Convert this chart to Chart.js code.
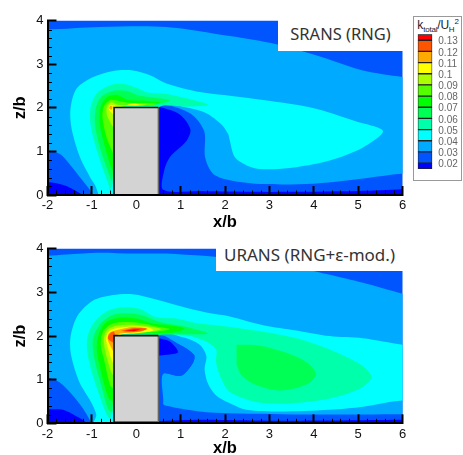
<!DOCTYPE html>
<html><head><meta charset="utf-8">
<script src="https://cdn.jsdelivr.net/npm/chart.js@4"></script>
<style>
html,body{margin:0;padding:0;background:#fff;overflow:hidden}
#page{position:relative;width:463px;height:455px;overflow:hidden;font-family:"Liberation Sans",Arial,sans-serif}
canvas{position:absolute;filter:blur(.3px)}
.note{position:absolute;background:#fff;font-family:"Noto Sans",sans-serif;color:#333;white-space:nowrap;text-align:center}
#legendBox{position:absolute;left:413px;top:16px;width:47px;height:163px;border:1px solid #999;background:#fff}
#legendTitle{position:absolute;left:414px;top:18px;width:48px;text-align:center;font-size:12px;color:#222;white-space:nowrap;letter-spacing:-.2px}
#legendTitle sub,#legendTitle sup{font-size:8px;line-height:0}
</style></head><body><div id="page">
<canvas id="c1" style="left:0;top:0"></canvas>
<canvas id="c2" style="left:0;top:228px"></canvas>
<div class="note" style="left:278px;top:17px;width:125px;height:34px;line-height:34px;font-size:16.5px">SRANS (RNG)</div>
<div class="note" style="left:216px;top:238px;width:187px;height:33px;line-height:33px;font-size:17px">URANS (RNG+ε-mod.)</div>
<div id="legendBox"></div>
<div id="legendTitle">k<sub>total</sub>/U<sub>H</sub><sup>2</sup></div>
<canvas id="c3" style="left:414px;top:16px"></canvas>
</div>
<script>
// ---------- axis and legend values ----------
const xRange = [-2, 6];
const zRange = [0, 4];
const legendLevels = [0.13, 0.12, 0.11, 0.1, 0.09, 0.08, 0.07, 0.06, 0.05, 0.04, 0.03, 0.02];
const legendBands = [
  [0.13, 0.1353], [0.12, 0.13], [0.11, 0.12], [0.10, 0.11], [0.09, 0.10], [0.08, 0.09], [0.07, 0.08],
  [0.06, 0.07], [0.05, 0.06], [0.04, 0.05], [0.03, 0.04], [0.02, 0.03], [0.0147, 0.02]
];
const legendColors = ['#ff0000','#ff5500','#ffaa00','#ffff00','#aaff00','#55ff00','#00ff00','#00ff55','#00ffaa','#00ffff','#00aaff','#0055ff','#0000ff'];
const C = {b02:'#0000ff', b03:'#0055ff', b04:'#00aaff', b05:'#00ffff', b06:'#00ffaa', b07:'#00ff55', b08:'#00ff00', b09:'#55ff00', b10:'#aaff00', b11:'#ffff00', b12:'#ffaa00', b13:'#ff5500', b14:'#ff0000'};

const domain = [[-2.5,-0.5],[6.5,-0.5],[6.5,4.5],[-2.5,4.5]];
const building = [[-0.5,0],[-0.5,2.01],[0.5,2.01],[0.5,0],[-0.5,0]];
const buildingOutline = [[-0.5,0],[-0.5,2.01],[0.5,2.01]];
const buildingRight = [[0.5,2.01],[0.5,0]];
const floorLine = [[-.5,.04],[.5,.04]];

// ---------- SRANS contours (x/b, z/b) ----------
const s_floorLeft = [[-2.5,.30],[-2,.30],[-1.64,.23],[-1.27,.04],[-1.18,-.1],[-2.5,-.3]];
const s_wake02 = [[.45,2.03],[.5,2.03],[.98,1.85],[1.22,1.51],[1.13,1.24],[.76,.87],[.63,.56],[.61,.12],[1.43,.09],[3,.07],[5,.09],[6,.13],[6.5,.15],[6.5,-.3],[.4,-.3]];
const s_04 = [[-2.5,3.8],[-2,3.8],[-.82,3.86],[.68,3.86],[2.11,3.65],[3.16,3.46],[4.21,3.16],[5.11,2.86],[6,2.71],[6.5,2.65],[6.5,.46],[6,.49],[5.11,.38],[3.98,.26],[2.86,.25],[2.11,.34],[1.73,.49],[1.55,.87],[1.53,1.47],[1.21,1.88],[.53,2.03],[0,1],[-.5,-.2],[-.97,-.05],[-1.04,.11],[-1.27,.41],[-1.57,.79],[-1.72,.94],[-2,1.02],[-2.5,1.05]];
const s_05 = [[-.85,-.1],[-.85,0],[-.93,.23],[-1.04,.41],[-1.27,.87],[-1.46,1.54],[-1.48,2],[-1.34,2.45],[-.97,2.71],[-.52,2.85],[-.07,2.86],[.31,2.75],[.68,2.56],[1.13,2.43],[1.58,2.34],[2.11,2.28],[2.86,2.18],[3.98,2],[4.96,1.69],[5.56,1.47],[5.11,1.09],[4.36,.79],[3.61,.64],[2.86,.59],[2.49,.68],[2.22,.87],[2.11,1.24],[2.07,1.4],[1.92,1.62],[1.58,1.88],[1.13,2.01],[.53,2.05],[0,1],[-.5,-.1]];
const s_06 = [[-.6,.1],[-.63,.25],[-.74,.56],[-.93,1.17],[-1.03,1.62],[-1.03,2],[-.89,2.33],[-.59,2.52],[-.29,2.55],[.01,2.46],[.23,2.36],[.68,2.32],[1.13,2.22],[1.62,2.07],[1.13,2.03],[.53,2.03],[0,1.5]];
const s_07 = [[-.55,.3],[-.59,.41],[-.82,1.09],[-.93,1.62],[-.91,2],[-.78,2.26],[-.52,2.39],[-.22,2.39],[.08,2.28],[.38,2.24],[.76,2.17],[.38,2.07],[-.3,2],[-.45,1]];
const s_08 = [[-.52,.55],[-.57,.64],[-.74,1.24],[-.83,1.69],[-.8,2.03],[-.67,2.24],[-.44,2.3],[-.18,2.18],[.16,2.17],[.53,2.12],[.16,2.05],[-.3,2],[-.45,1.2]];
const s_09 = [[-.52,.95],[-.55,1.02],[-.67,1.32],[-.76,1.77],[-.73,2.03],[-.59,2.18],[-.4,2.16],[-.18,2.12],[.23,2.11],[.46,2.09],[.16,2.05],[-.4,2],[-.45,1.4]];
const s_10 = [[-.52,1.55],[-.55,1.6],[-.66,1.83],[-.66,2.03],[-.56,2.13],[-.42,2.07],[-.18,2.07],[.08,2.09],[.23,2.07],[.08,2.05],[-.4,2],[-.47,1.7]];
const s_11 = [[-.52,1.85],[-.62,1.97],[-.59,2.07],[-.5,2.06],[-.45,2.02]];
const s_11b = [[-.2,2.08],[-.05,2.1],[.06,2.08],[-.05,2.06]];
const s_12 = [[-.56,1.95],[-.61,2.0],[-.58,2.05],[-.53,2.03]];

// ---------- URANS contours (x/b, z/b) ----------
const u_floorLeft = [[-2.5,.32],[-2,.32],[-1.65,.31],[-1.35,.16],[-1.13,.02],[-1.05,-.1],[-2.5,-.3]];
const u_floorRight = [[.4,.05],[1.5,.08],[3,.06],[5,.07],[6,.08],[6.5,.08],[6.5,-.3],[.4,-.3]];
const u_04 = [[-2.5,3.82],[-2,3.84],[-1.58,3.87],[-.83,3.91],[-.08,3.89],[.68,3.89],[2.5,3.75],[3.5,3.6],[4.29,3.42],[5.11,3.22],[6,2.97],[6.5,2.85],[6.5,.2],[6,.21],[4,.2],[2.11,.23],[1.43,.27],[.68,.4],[.6,.46],[.6,1.13],[1.01,1.09],[1.28,1.39],[1.3,1.57],[.98,1.8],[.5,2.0],[0,1],[-.5,-.2],[-.98,-.05],[-1.05,.08],[-1.2,.34],[-1.43,.64],[-1.73,.94],[-2,1.05],[-2.5,1.1]];
const u_03pocket = [[.5,2.0],[.98,1.8],[1.3,1.57],[1.28,1.39],[1.01,1.09],[.6,1.13],[.6,.4],[.4,.3],[.4,2]];
const u_02pocket = [[.5,1.95],[.75,1.88],[.94,1.63],[.68,1.57],[.5,1.55]];
const u_05 = [[-.85,-.1],[-.96,0],[-.9,.19],[-1.02,.49],[-1.28,.94],[-1.47,1.57],[-1.48,1.99],[-1.32,2.47],[-.98,2.81],[-.53,2.94],[-.08,2.96],[.45,2.84],[.98,2.69],[1.58,2.54],[2.11,2.45],[2.86,2.25],[3.61,2.13],[4.36,2],[5.11,1.95],[6,1.8],[6.5,1.75],[6.5,.47],[6,.52],[5.11,.38],[4.36,.31],[3.23,.27],[2.48,.31],[2.11,.46],[1.8,.64],[1.62,.9],[1.54,1.24],[1.58,1.54],[1.43,1.8],[1.05,1.97],[.5,2.04],[0,1],[-.5,-.1]];
const u_06 = [[-.6,.1],[-.68,.23],[-.83,.64],[-1.02,1.24],[-1.11,1.69],[-1.09,2.02],[-.94,2.32],[-.64,2.58],[-.26,2.66],[.08,2.62],[.45,2.43],[.9,2.4],[1.35,2.3],[2.11,2.21],[2.86,2.1],[3.61,1.95],[4.36,1.69],[5.11,1.31],[5.3,1.05],[5.03,.79],[4.36,.57],[3.46,.46],[2.71,.49],[2.11,.72],[1.92,1.01],[1.8,1.39],[1.8,1.69],[1.58,1.87],[1.13,2.02],[.53,2.03],[0,1.5]];
const u_07 = [[-.55,.25],[-.64,.34],[-.79,.87],[-.94,1.46],[-.98,1.91],[-.83,2.25],[-.56,2.47],[-.23,2.52],[.15,2.47],[.53,2.32],[1.13,2.21],[1.62,2.06],[1.13,2.04],[.5,2.03],[-.4,2],[-.45,1]];
const u_07wake = [[2.26,1.8],[2.79,1.78],[3.4,1.61],[3.85,1.39],[4.05,1.13],[3.85,.9],[3.25,.75],[2.72,.87],[2.38,1.09],[2.26,1.35]];
const u_08 = [[-.52,.5],[-.62,.57],[-.79,1.16],[-.89,1.69],[-.84,2.06],[-.68,2.32],[-.38,2.42],[0,2.4],[.38,2.28],[.75,2.25],[1.09,2.17],[.75,2.07],[-.4,2],[-.45,1]];
const u_09 = [[-.52,.8],[-.59,.87],[-.71,1.39],[-.8,1.8],[-.75,2.1],[-.56,2.27],[-.3,2.32],[.08,2.3],[.45,2.22],[.75,2.16],[.45,2.1],[-.4,2],[-.45,1.2]];
const u_10 = [[-.52,1.1],[-.56,1.16],[-.69,1.61],[-.73,1.95],[-.64,2.15],[-.42,2.24],[-.08,2.26],[.3,2.22],[.56,2.16],[.3,2.1],[-.4,2],[-.45,1.4]];
const u_11 = [[-.52,1.38],[-.55,1.43],[-.66,1.8],[-.68,1.98],[-.59,2.13],[-.38,2.19],[0,2.22],[.3,2.19],[.38,2.13],[.05,2.07],[-.4,2],[-.47,1.6]];
const u_12 = [[-.52,1.65],[-.54,1.69],[-.64,1.91],[-.62,2.06],[-.49,2.12],[-.38,2.15],[-.08,2.21],[.26,2.17],[.08,2.1],[-.36,2.06],[-.49,2.0]];
const u_13a = [[-.53,1.85],[-.64,1.95],[-.59,2.06],[-.5,2.1],[-.48,2.0]];
const u_13b = [[-.34,2.12],[-.08,2.18],[.23,2.17],[.08,2.11],[-.22,2.1]];
const u_14 = [[-.26,2.13],[-.08,2.15],[.08,2.15],[-.04,2.11]];

const topLayers = [
  [C.b03,domain],[C.b02,s_floorLeft],[C.b02,s_wake02],[C.b04,s_04],[C.b05,s_05],[C.b06,s_06],[C.b07,s_07],
  [C.b08,s_08],[C.b09,s_09],[C.b10,s_10],[C.b11,s_11],[C.b11,s_11b],[C.b12,s_12]
];
const botLayers = [
  [C.b03,domain],[C.b02,u_floorLeft],[C.b02,u_floorRight],[C.b04,u_04],[C.b03,u_03pocket],[C.b02,u_02pocket],
  [C.b05,u_05],[C.b06,u_06],[C.b07,u_07],[C.b07,u_07wake],
  [C.b08,u_08],[C.b09,u_09],[C.b10,u_10],[C.b11,u_11],[C.b12,u_12],[C.b13,u_13a],[C.b13,u_13b],[C.b14,u_14]
];

const pts = a => a.map(([x,y]) => ({x,y}));
const minorTicks = {
  id:'minorTicks',
  afterDatasetsDraw(chart){
    const {ctx, scales:{x,y}} = chart;
    ctx.save(); ctx.strokeStyle='#000'; ctx.lineWidth=1; ctx.beginPath();
    for(let i=0;i<=40;i++){
      const v=xRange[0]+i*0.2;
      if(i%5===0||(v>-0.5&&v<0.5)) continue;
      const p=Math.round(x.getPixelForValue(v))+.5;
      ctx.moveTo(p,y.bottom); ctx.lineTo(p,y.bottom-4.5);
    }
    for(let i=0;i<=20;i++){
      if(i%5===0) continue;
      const p=Math.round(y.getPixelForValue(zRange[0]+i*0.2))+.5;
      ctx.moveTo(x.left,p); ctx.lineTo(x.left+4.5,p);
    }
    ctx.stroke(); ctx.restore();
  }
};

function panel(id,w,h,top,xh,layers,extra){
  const el=document.getElementById(id);
  el.width=w; el.height=h; el.style.width=w+'px'; el.style.height=h+'px';
  const contour=layers.map(([c,p])=>({data:pts(p),backgroundColor:c,borderWidth:0,fill:'shape',showLine:true,pointRadius:0,tension:.3}));
  const line=(p,c,lw)=>({data:pts(p),borderColor:c,borderWidth:lw,showLine:true,pointRadius:0,fill:false,tension:0});
  const solid=[
    line(buildingOutline,'#111',1.6),
    line(buildingRight,'#666',1.6),
    ...extra.map(p=>line(p,'#666',1)),
    {data:pts(building),backgroundColor:'#d3d3d3',borderWidth:0,fill:'shape',showLine:true,pointRadius:0,tension:0}
  ];
  return new Chart(el,{
    type:'scatter',
    data:{datasets:[...solid,...contour.reverse()]},
    plugins:[minorTicks],
    options:{
      responsive:false,animation:false,devicePixelRatio:1,
      layout:{padding:{left:0,right:60.5,top:top,bottom:0}},
      plugins:{legend:{display:false},tooltip:{enabled:false}},
      scales:{
        x:{type:'linear',min:xRange[0],max:xRange[1],
          afterFit(s){s.height=xh;},
          border:{color:'#000',width:2,z:1},
          grid:{drawOnChartArea:false,tickLength:-9,z:1,tickWidth:2,tickColor:c=>c.tick.value===0?'rgba(0,0,0,0)':'#000'},
          ticks:{stepSize:1,maxRotation:0,autoSkip:false,padding:12,color:'#111',font:{size:13,family:'"Liberation Sans"'}},
          title:{display:true,text:'x/b',color:'#000',padding:0,font:{size:16.5,weight:'bold',family:'"Liberation Sans"'}}
        },
        y:{type:'linear',min:zRange[0],max:zRange[1],
          afterFit(s){s.width=47.5;},
          border:{color:'#000',width:2,z:1},
          grid:{drawOnChartArea:false,tickLength:-9,z:1,tickWidth:2,tickColor:'#000'},
          ticks:{stepSize:1,padding:13,color:'#111',font:{size:13,family:'"Liberation Sans"'}},
          title:{display:true,text:'z/b',color:'#000',padding:{top:11,bottom:0},font:{size:16.5,weight:'bold',family:'"Liberation Sans"'}}
        }
      }
    }
  });
}
panel('c1',463,232,18,37,topLayers,[]);
panel('c2',463,230,16.7,34.7,botLayers,[floorLine]);

// colour bar
(function(){
  const el=document.getElementById('c3');
  el.width=49; el.height=165; el.style.width='49px'; el.style.height='165px';
  new Chart(el,{
    type:'bar',
    data:{labels:['k'],datasets:[{
      data:legendBands.map(b=>({x:'k',y:b})),
      backgroundColor:legendColors,borderColor:'#222',borderWidth:1,borderSkipped:false,
      barPercentage:1,categoryPercentage:1
    }]},
    options:{
      responsive:false,animation:false,devicePixelRatio:1,
      layout:{padding:{left:3.7,right:.7,top:18.3,bottom:9}},
      plugins:{legend:{display:false},tooltip:{enabled:false}},
      scales:{
        x:{display:false},
        y:{position:'right',min:0.0147,max:0.1353,
          afterFit(s){s.width=30;},
          afterBuildTicks(s){s.ticks=legendLevels.map(v=>({value:v}));},
          border:{display:false},
          grid:{display:false,drawTicks:false},
          ticks:{autoSkip:false,padding:6,labelOffset:1.5,color:'#666',font:{size:10,family:'"Liberation Sans"'},callback:v=>String(+v.toFixed(2))}
        }
      }
    }
  });
})();
</script>
</body></html>
